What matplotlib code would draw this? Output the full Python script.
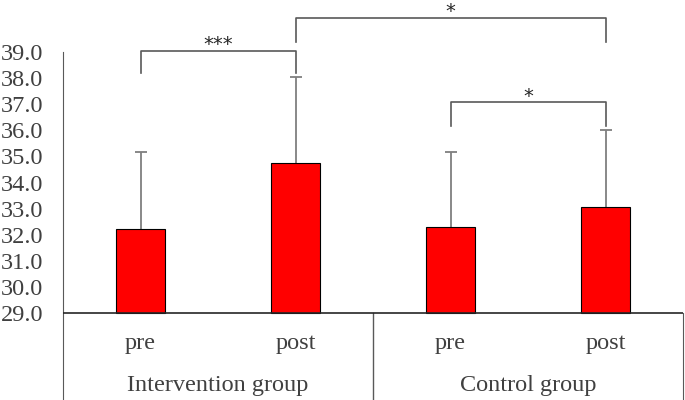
import numpy as np
import matplotlib.pyplot as plt

# data
conditions = ['pre', 'post', 'pre', 'post']
groups = ['Intervention group', 'Control group']
means = [32.22, 34.75, 32.3, 33.05]
sds = [2.95, 3.3, 2.85, 2.95]
yticks = [29, 30, 31, 32, 33, 34, 35, 36, 37, 38, 39]

plt.rcParams['font.family'] = ['Liberation Serif', 'DejaVu Serif']
txt = '#404040'
line = '#595959'

fig = plt.figure(figsize=(6.85, 4.0), dpi=100)
ax = fig.add_axes([63/685, 0, 620/685, 1])
x = np.arange(len(means))
tops = np.array(means) + np.array(sds)

ax.bar(x, np.array(means) - 29, bottom=29, width=0.31, color='#ff0000',
       edgecolor='black', linewidth=0.8, zorder=3)
# error bars (upper only)
ax.vlines(x, means, tops, color='#7f7f7f', linewidth=1.3, zorder=2)
ax.plot(x, tops, linestyle='none', marker='_', markersize=8, markeredgewidth=1.3,
        color='#7f7f7f', zorder=2)

ax.set_xlim(-0.5, 3.5)
ax.set_ylim(25.67, 40.99)
for s in ['top', 'bottom']:
    ax.spines[s].set_visible(False)
ax.spines['left'].set_bounds(25.67, 39)
ax.spines['left'].set_color(line)
ax.spines['right'].set_bounds(25.67, 29)
ax.spines['right'].set_color(line)
ax.axhline(29, color='#262626', linewidth=1.2, zorder=4)
ax.plot([1.5, 1.5], [25.67, 29], color=line, linewidth=1.0)

ax.set_xticks([])
ax.set_yticks(yticks)
ax.set_yticklabels(['%.1f' % t for t in yticks], fontsize=17.5, color=txt)
ax.tick_params(axis='y', length=0, pad=14)

for i, c in enumerate(conditions):
    ax.text(x[i], 27.85, c, ha='center', va='center', fontsize=17.5, color=txt)
for j, g in enumerate(groups):
    ax.text(0.5 + 2*j, 26.24, g, ha='center', va='center', fontsize=17.5, color=txt)

def bracket(x1, x2, y, leg, label):
    ax.plot([x1, x1, x2, x2], [y - leg, y, y, y - leg], color=line, linewidth=1.2)
    ax.text((x1 + x2) / 2, y + 0.02, label, ha='center', va='baseline', fontsize=14,
            color='#262626', family='DejaVu Sans')

bracket(0, 1, 39.04, 0.85, '***')
bracket(1, 3, 40.3, 0.92, '*')
bracket(2, 3, 37.08, 0.92, '*')

fig.savefig('out.png', dpi=100)
